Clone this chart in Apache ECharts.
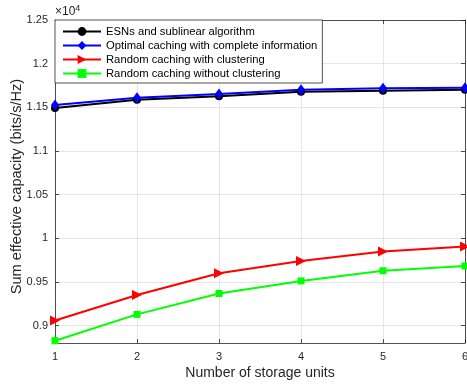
<!DOCTYPE html>
<html>
<head>
<meta charset="utf-8">
<script src="https://cdn.jsdelivr.net/npm/echarts@6/dist/echarts.min.js"></script>
<style>
  html, body { margin: 0; padding: 0; background: #fff; }
  #chart { width: 467px; height: 387px; }
</style>
</head>
<body>
<div id="chart"></div>
<script>
// Storage units on the x axis
const storageUnits = [1, 2, 3, 4, 5, 6];

// Sum effective capacity (bits/s/Hz) for each scheme
const esnSublinear   = [11491, 11586, 11627, 11677, 11690, 11702];
const optimalCaching = [11527, 11610, 11652, 11700, 11717, 11725];
const randomCluster  = [9057, 9349, 9600, 9739, 9849, 9906];
const randomNoClust  = [8826, 9128, 9367, 9511, 9628, 9682];

// Y tick positions (shown scaled by 10^4)
const yTicks = [9000, 9500, 10000, 10500, 11000, 11500, 12000, 12500];
const xTicks = [1, 2, 3, 4, 5, 6];

const seriesNames = [
  'ESNs and sublinear algorithm',
  'Optimal caching with complete information',
  'Random caching with clustering',
  'Random caching without clustering'
];

const axisColor = '#262626';
const gridColor = '#e0e0e0';
const font = 'Liberation Sans, Arial, Helvetica, sans-serif';

function pairs(vals) {
  return storageUnits.map((x, i) => [x, vals[i]]);
}

const chart = echarts.init(document.getElementById('chart'));

const xBase = {
  type: 'value', min: 1, max: 6,
  axisLine: { show: true, lineStyle: { color: axisColor, width: 0.8 } },
  axisTick: { show: true, inside: true, length: 4, customValues: xTicks, lineStyle: { color: axisColor, width: 0.8 } },
  splitLine: { show: false }
};
const yBase = {
  type: 'value', min: 8800, max: 12500,
  axisLine: { show: true, lineStyle: { color: axisColor, width: 0.8 } },
  axisTick: { show: true, inside: true, length: 4, customValues: yTicks, lineStyle: { color: axisColor, width: 0.8 } },
  splitLine: { show: false }
};

chart.setOption({
  animation: false,
  backgroundColor: '#fff',
  textStyle: { fontFamily: font },
  grid: { left: 55, right: 2, top: 20, bottom: 44, containLabel: false, outerBoundsMode: 'none' },
  title: {
    text: '×10{s|4}',
    left: 55, top: 4, padding: 0,
    textStyle: {
      fontFamily: font, fontSize: 12, fontWeight: 'normal', color: axisColor,
      rich: { s: { fontSize: 9, verticalAlign: 'top', padding: [0, 0, 6, 0], color: axisColor, fontFamily: font } }
    }
  },
  legend: {
    orient: 'vertical',
    left: 55, top: 20,
    data: seriesNames,
    backgroundColor: '#fff',
    borderColor: axisColor,
    borderWidth: 0.8,
    borderRadius: 0,
    padding: [5, 5, 3, 7],
    itemGap: 1,
    itemWidth: 38,
    itemHeight: 11,
    itemTextGap: 5,
    textStyle: { fontFamily: font, fontSize: 11.25, color: '#000', lineHeight: 13 }
  },
  xAxis: [
    Object.assign({}, xBase, {
      position: 'bottom',
      name: 'Number of storage units',
      nameLocation: 'middle', nameGap: 23, nameMoveOverlap: false,
      nameTextStyle: { fontFamily: font, fontSize: 14, color: axisColor },
      axisLabel: { show: true, customValues: xTicks, margin: 8, fontFamily: font, fontSize: 11, color: axisColor },
      splitLine: { show: true, lineStyle: { color: gridColor, width: 0.8 } }
    }),
    Object.assign({}, xBase, { position: 'top', axisLabel: { show: false } })
  ],
  yAxis: [
    Object.assign({}, yBase, {
      position: 'left',
      name: 'Sum effective capacity (bits/s/Hz)',
      nameLocation: 'middle', nameGap: 31, nameMoveOverlap: false,
      nameTextStyle: { fontFamily: font, fontSize: 14.6, color: axisColor, padding: [0, 10, 0, 0] },
      axisLabel: {
        show: true, customValues: yTicks, margin: 7, fontFamily: font, fontSize: 11, color: axisColor,
        formatter: v => String(+(v / 1e4).toFixed(2))
      },
      splitLine: { show: true, lineStyle: { color: gridColor, width: 0.8 } }
    }),
    Object.assign({}, yBase, { position: 'right', axisLabel: { show: false } })
  ],
  series: [
    {
      name: seriesNames[0], type: 'line', data: pairs(esnSublinear),
      symbol: 'circle', symbolSize: 8,
      lineStyle: { color: '#000', width: 2 },
      itemStyle: { color: '#000' }
    },
    {
      name: seriesNames[1], type: 'line', data: pairs(optimalCaching),
      symbol: 'diamond', symbolSize: [8, 11],
      lineStyle: { color: '#0000ff', width: 2 },
      itemStyle: { color: '#0000ff' }
    },
    {
      name: seriesNames[2], type: 'line', data: pairs(randomCluster),
      symbol: 'triangle', symbolSize: 10, symbolRotate: -90,
      lineStyle: { color: '#ff0000', width: 2 },
      itemStyle: { color: '#ff0000' }
    },
    {
      name: seriesNames[3], type: 'line', data: pairs(randomNoClust),
      symbol: 'rect', symbolSize: 7,
      lineStyle: { color: '#00ff00', width: 2 },
      itemStyle: { color: '#00ff00' }
    }
  ]
});
</script>
</body>
</html>
